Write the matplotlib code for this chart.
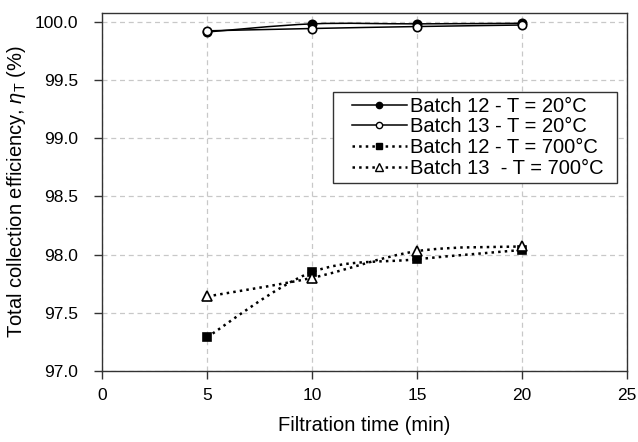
import numpy as np
import matplotlib
matplotlib.use("Agg")
import matplotlib.pyplot as plt
from matplotlib.path import Path
from matplotlib.patches import PathPatch
from matplotlib.lines import Line2D
from matplotlib.legend_handler import HandlerLine2D

plt.rcParams['font.family'] = ['Liberation Sans', 'DejaVu Sans']
plt.rcParams['mathtext.fontset'] = 'custom'
plt.rcParams['mathtext.it'] = 'Liberation Sans:italic'
plt.rcParams['mathtext.rm'] = 'Liberation Sans'

# filtration time (min)
time_min = [5, 10, 15, 20]

# total collection efficiency (%)
b12_20 = [99.915, 99.985, 99.985, 99.99]
b13_20 = [99.925, 99.945, 99.962, 99.975]
b12_700 = [97.29, 97.85, 97.96, 98.04]
b13_700 = [97.64, 97.80, 98.03, 98.07]

labels = ["Batch 12 - T = 20°C", "Batch 13 - T = 20°C",
          "Batch 12 - T = 700°C", "Batch 13  - T = 700°C"]


def smooth_path(x, y):
    # Catmull-Rom style bezier through the points (spreadsheet "smoothed line")
    pts = np.column_stack([x, y]).astype(float)
    verts = [pts[0]]
    codes = [Path.MOVETO]
    n = len(pts)
    for i in range(n - 1):
        p0 = pts[i - 1] if i > 0 else pts[i]
        p1 = pts[i]
        p2 = pts[i + 1]
        p3 = pts[i + 2] if i + 2 < n else pts[i + 1]
        c1 = p1 + (p2 - p0) / 6.0
        c2 = p2 - (p3 - p1) / 6.0
        verts += [c1, c2, p2]
        codes += [Path.CURVE4] * 3
    return Path(verts, codes)


class ShiftedHandler(HandlerLine2D):
    # legend line that starts a bit in from the box edge
    def __init__(self, shift=0.7, **kw):
        super().__init__(**kw)
        self.shift = shift

    def create_artists(self, legend, orig_handle, xdescent, ydescent,
                       width, height, fontsize, trans):
        off = self.shift * fontsize
        return super().create_artists(legend, orig_handle, xdescent - off,
                                      ydescent, width - off, height,
                                      fontsize, trans)


fig = plt.figure(figsize=(6.38, 4.42), dpi=100)
ax = fig.add_axes([0.16, 0.161, 0.823, 0.81])

series = [
    (b12_20, '-', 'o', 'black', 6, 1.1),
    (b13_20, '-', 'o', 'white', 6, 1.1),
    (b12_700, ':', 's', 'black', 6.3, 1.8),
    (b13_700, ':', '^', 'white', 7, 1.8),
]

handles = []
for (vals, ls, mk, fc, ms, lw), lab in zip(series, labels):
    patch = PathPatch(smooth_path(time_min, vals), facecolor='none',
                      edgecolor='black', linestyle=ls, linewidth=lw, zorder=3)
    ax.add_patch(patch)
    ax.plot(time_min, vals, linestyle='none', marker=mk, markersize=ms,
            markerfacecolor=fc, markeredgecolor='black', markeredgewidth=1.2,
            zorder=4)
    handles.append(Line2D([], [], color='black', linestyle=ls, linewidth=lw,
                          marker=mk, markersize=ms - 1.5, markerfacecolor=fc,
                          markeredgecolor='black', markeredgewidth=1.0))

ax.set_xlim(0, 25)
ax.set_ylim(97.0, 100.08)
ax.set_xticks(np.arange(0, 26, 5))
ax.set_yticks(np.arange(97.0, 100.01, 0.5))
ax.yaxis.set_major_formatter(matplotlib.ticker.FormatStrFormatter('%.1f'))

ax.grid(True, color='#c8c8c8', linestyle=(0, (4, 3)), linewidth=0.9)
ax.set_axisbelow(True)
for sp in ax.spines.values():
    sp.set_color('#333333')
    sp.set_linewidth(1.0)
ax.tick_params(direction='out', length=6, width=1, color='#333333',
               labelsize=12.5)
ax.tick_params(axis='x', pad=6)
ax.tick_params(axis='y', pad=11)

ax.set_xlabel("Filtration time (min)", fontsize=14.5, labelpad=10)
ax.set_ylabel(r"Total collection efficiency, $\eta_{\mathrm{T}}$ (%)",
              fontsize=14.5, labelpad=5)

leg = ax.legend(handles, labels, loc='upper left',
                bbox_to_anchor=(0.44, 0.5283, 0.541, 0.2512), mode='expand',
                borderaxespad=0, fontsize=14.5, handlelength=3.4,
                handletextpad=0.15, labelspacing=0.08, borderpad=0.25,
                fancybox=False, framealpha=1, edgecolor='#333333',
                handler_map={Line2D: ShiftedHandler(shift=0.7)})
leg.get_frame().set_linewidth(1.0)

fig.savefig("out.png", dpi=100)
